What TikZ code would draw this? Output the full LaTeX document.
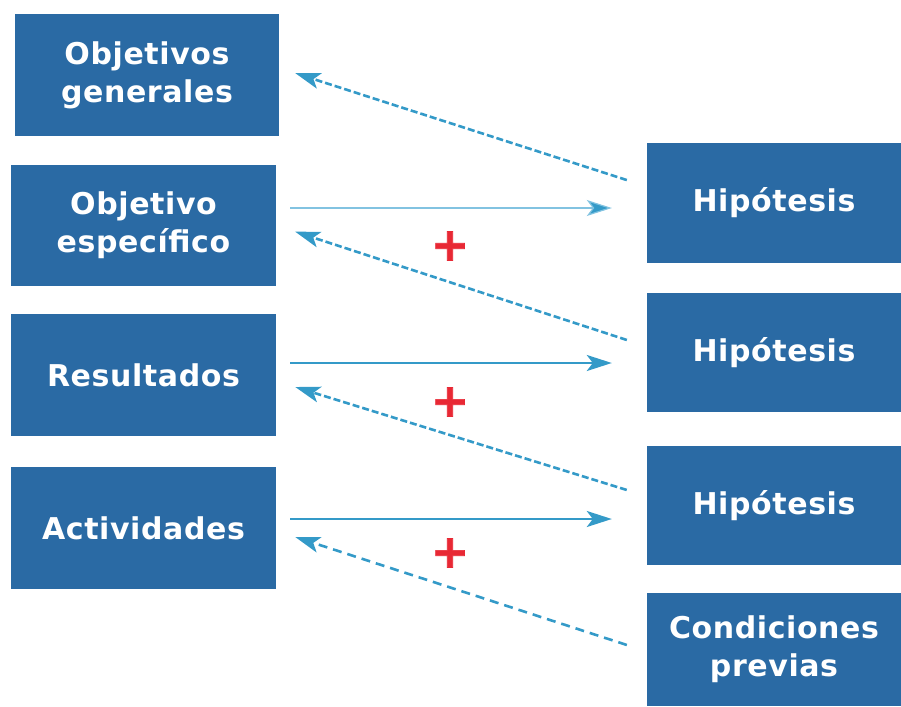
\documentclass[tikz,border=0pt]{standalone}
\usepackage{fontspec}
\setmainfont[LetterSpace=2]{DejaVu Sans}
\newfontfamily\plusfont[FakeBold=1.5]{DejaVu Sans}
\usetikzlibrary{arrows.meta}
\definecolor{boxblue}{RGB}{42,106,164}
\definecolor{arrowblue}{RGB}{52,154,200}
\definecolor{lightarrow}{RGB}{130,195,225}
\definecolor{plusred}{RGB}{232,40,52}
\tikzset{
  box/.style={fill=boxblue, text=white, align=center, inner sep=0pt,
    font=\bfseries\fontsize{30}{38}\selectfont},
  leftbox/.style={box, minimum width=265pt, minimum height=122pt},
  rightbox/.style={box, minimum width=254pt, minimum height=119pt},
  fwd/.style={draw=arrowblue, line width=2.2pt,
    -{Stealth[length=25pt, width=16pt, inset=6pt]}},
  back/.style={fwd, line width=2.6pt, dash pattern=on 7pt off 3pt},
  plus/.style={text=plusred, font=\plusfont\bfseries\fontsize{46}{46}\selectfont, inner sep=0pt}
}
\begin{document}
\begin{tikzpicture}[x=1pt, y=-1pt]
  \useasboundingbox (0,0) rectangle (901,706);
  \node[leftbox, minimum width=264pt] (objgen) at (147,75) {Objetivos\\generales};
  \node[leftbox, minimum height=121pt] (objesp) at (143.5,225.5) {Objetivo\\específico};
  \node[leftbox] (result) at (143.5,375) {Resultados};
  \node[leftbox] (activ) at (143.5,528) {Actividades};
  \node[rightbox, minimum height=120pt] (hip1) at (774,203) {Hipótesis};
  \node[rightbox] (hip2) at (774,352.5) {Hipótesis};
  \node[rightbox] (hip3) at (774,505.5) {Hipótesis};
  \node[rightbox, minimum height=113pt] (cond) at (774,649.5) {Condiciones\\previas};
  \node[plus] (plus1) at (450,246) {+};
  \node[plus] (plus2) at (450,402) {+};
  \node[plus] (plus3) at (450,553) {+};
  % arrows
  \draw[back, shorten <=21pt, shorten >=17pt] ([yshift=16.5pt]hip1.west) -- ([yshift=7pt]objgen.east);
  \draw[fwd, draw=lightarrow, line width=1.2pt, shorten <=14pt, shorten >=35pt,
    -{Stealth[length=25pt, width=16pt, inset=6pt, fill=arrowblue]}]
    ([yshift=17.5pt]objesp.east) -- ([yshift=-5pt]hip1.west);
  \draw[back, shorten <=21pt, shorten >=20pt] ([yshift=6pt]hip2.west) -- (objesp.east);
  \draw[fwd, shorten <=14pt, shorten >=35pt] ([yshift=12pt]result.east) -- ([yshift=-10.5pt]hip2.west);
  \draw[back, shorten <=21pt, shorten >=20pt] ([yshift=9.3pt]hip3.west) -- ([yshift=-6.1pt]result.east);
  \draw[fwd, shorten <=14pt, shorten >=35pt] ([yshift=9pt]activ.east) -- ([yshift=-13.5pt]hip3.west);
  \draw[back, dash pattern=on 9pt off 6pt, shorten <=21pt, shorten >=20pt] ([yshift=-2pt]cond.west) -- ([yshift=-2.8pt]activ.east);
\end{tikzpicture}
\end{document}
